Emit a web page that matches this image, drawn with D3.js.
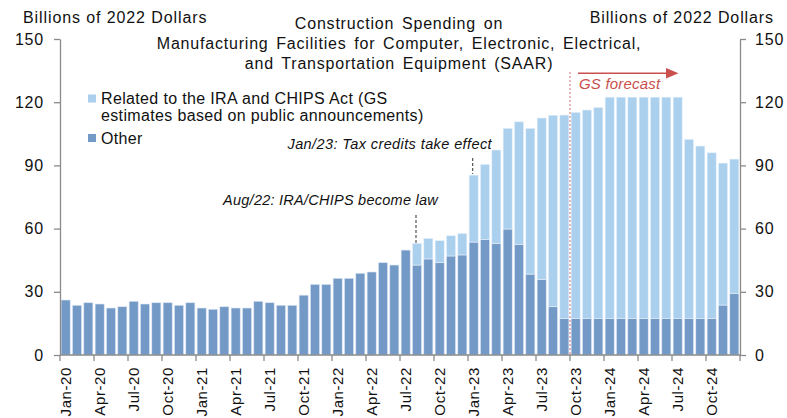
<!DOCTYPE html>
<html>
<head>
<meta charset="utf-8">
<script src="https://cdn.jsdelivr.net/npm/d3@7/dist/d3.min.js"></script>
<style>
  html, body { margin: 0; padding: 0; background: #fff; }
  svg text { font-family: "Liberation Sans", Arial, sans-serif; fill: #111; }
</style>
</head>
<body>
<svg id="chart" width="787" height="418"></svg>
<script>
// ---------- DATA ----------
const months = [
  "Jan-20","Feb-20","Mar-20","Apr-20","May-20","Jun-20","Jul-20","Aug-20","Sep-20","Oct-20","Nov-20","Dec-20",
  "Jan-21","Feb-21","Mar-21","Apr-21","May-21","Jun-21","Jul-21","Aug-21","Sep-21","Oct-21","Nov-21","Dec-21",
  "Jan-22","Feb-22","Mar-22","Apr-22","May-22","Jun-22","Jul-22","Aug-22","Sep-22","Oct-22","Nov-22","Dec-22",
  "Jan-23","Feb-23","Mar-23","Apr-23","May-23","Jun-23","Jul-23","Aug-23","Sep-23","Oct-23","Nov-23","Dec-23",
  "Jan-24","Feb-24","Mar-24","Apr-24","May-24","Jun-24","Jul-24","Aug-24","Sep-24","Oct-24","Nov-24","Dec-24"
];
const otherValues = [
  26.1, 23.6, 24.8, 24.2, 22.3, 22.9, 25.5, 24.2, 24.8, 24.8, 23.6, 24.8,
  22.3, 21.7, 22.9, 22.3, 22.3, 25.5, 24.8, 23.6, 23.6, 28.4, 33.5, 33.5,
  36.4, 36.4, 38.8, 39.4, 43.8, 42.7, 49.8, 42.7, 45.6, 43.8, 47.0, 47.5,
  53.6, 54.9, 53.0, 59.8, 52.5, 38.4, 35.9, 22.9, 17.4, 17.4, 17.4, 17.4,
  17.4, 17.4, 17.4, 17.4, 17.4, 17.4, 17.4, 17.4, 17.4, 17.4, 23.7, 29.3
];
const iraValues = [
  0, 0, 0, 0, 0, 0, 0, 0, 0, 0, 0, 0,
  0, 0, 0, 0, 0, 0, 0, 0, 0, 0, 0, 0,
  0, 0, 0, 0, 0, 0, 0, 10.3, 9.8, 10.5, 9.6, 10.2,
  31.8, 35.6, 44.3, 47.8, 58.2, 69.2, 76.6, 90.9, 96.5, 97.8, 98.9, 100.1,
  105.0, 105.0, 105.0, 105.0, 105.0, 105.0, 105.0, 85.0, 81.8, 78.6, 67.4, 63.7
];
const yTicks = [0, 30, 60, 90, 120, 150];
const xTickLabels = ["Jan-20","Apr-20","Jul-20","Oct-20","Jan-21","Apr-21","Jul-21","Oct-21",
  "Jan-22","Apr-22","Jul-22","Oct-22","Jan-23","Apr-23","Jul-23","Oct-23","Jan-24","Apr-24","Jul-24","Oct-24"];
const titleLines = ["Construction Spending on",
  "Manufacturing Facilities for Computer, Electronic, Electrical,",
  "and Transportation Equipment (SAAR)"];
const legendLabels = [["Related to the IRA and CHIPS Act (GS", "estimates based on public announcements)"], ["Other"]];
const annotations = [
  { month: "Aug-22", text: "Aug/22: IRA/CHIPS become law" },
  { month: "Jan-23", text: "Jan/23: Tax credits take effect" }
];
const forecastStart = "Oct-23";
const unitLabel = "Billions of 2022 Dollars";

// ---------- LAYOUT ----------
const colors = { ira: "#abd0ee", other: "#7399c6", axis: "#8a8a8a", red: "#c9504d" };
const svg = d3.select("#chart");
const plotL = 60, plotR = 740, plotT = 39, plotB = 355;

const x = d3.scaleBand().domain(months).range([plotL, plotR]).paddingInner(0.2).paddingOuter(0.1);
const y = d3.scaleLinear().domain([0, 150]).range([plotB, plotT]);
const step = x.step();
const bandLeft = m => x(m) - x.paddingInner() * step / 2;   // category boundary

const data = months.map((m, i) => ({ m, other: otherValues[i], ira: iraValues[i] }));

// bars
const g = svg.append("g");
g.selectAll("rect.other").data(data).join("rect")
  .attr("x", d => x(d.m)).attr("width", x.bandwidth())
  .attr("y", d => y(d.other)).attr("height", d => y(0) - y(d.other))
  .attr("fill", colors.other).attr("stroke", "#dbe6f3").attr("stroke-width", 0.6);
g.selectAll("rect.ira").data(data.filter(d => d.ira > 0)).join("rect")
  .attr("x", d => x(d.m)).attr("width", x.bandwidth())
  .attr("y", d => y(d.other + d.ira)).attr("height", d => y(d.other) - y(d.other + d.ira))
  .attr("fill", colors.ira).attr("stroke", "#e6f1fb").attr("stroke-width", 0.6);

// axes
const fontAxis = "16px";
const yl = svg.append("g").attr("transform", `translate(${plotL},0)`)
  .call(d3.axisLeft(y).tickValues(yTicks).tickSize(6).tickSizeOuter(0).tickPadding(10));
const yr = svg.append("g").attr("transform", `translate(${plotR},0)`)
  .call(d3.axisRight(y).tickValues(yTicks).tickSize(6).tickSizeOuter(0).tickPadding(9));
[yl, yr].forEach(a => {
  a.select(".domain").attr("stroke", colors.axis).attr("stroke-width", 1.3);
  a.selectAll(".tick line").attr("stroke", colors.axis).attr("stroke-width", 1.3);
  a.selectAll(".tick text").attr("font-size", fontAxis).attr("letter-spacing", "0.8px")
    .attr("font-family", "Liberation Sans, Arial, sans-serif").attr("fill", "#111");
});

// x axis line & ticks
const xa = svg.append("g");
xa.append("line").attr("x1", plotL).attr("x2", plotR).attr("y1", plotB).attr("y2", plotB)
  .attr("stroke", colors.axis).attr("stroke-width", 1.3);
const tickMonths = months.filter((m, i) => i % 3 === 0);
xa.selectAll("line.t").data(tickMonths).join("line")
  .attr("x1", d => bandLeft(d)).attr("x2", d => bandLeft(d))
  .attr("y1", plotB).attr("y2", plotB + 6).attr("stroke", colors.axis).attr("stroke-width", 1.3);
xa.append("line").attr("x1", plotR).attr("x2", plotR).attr("y1", plotB).attr("y2", plotB + 6)
  .attr("stroke", colors.axis).attr("stroke-width", 1.3);
xa.selectAll("text").data(xTickLabels).join("text")
  .attr("transform", d => `translate(${x(d) + x.bandwidth() / 2 + 5.5},${plotB + 12}) rotate(-90)`)
  .attr("text-anchor", "end").attr("font-size", "15px").attr("letter-spacing", "0.6px")
  .text(d => d);

// unit labels
svg.append("text").attr("x", 23).attr("y", 23).attr("font-size", "16px").attr("letter-spacing", "0.9px").text(unitLabel);
svg.append("text").attr("x", 774).attr("y", 23).attr("text-anchor", "end").attr("font-size", "16px").attr("letter-spacing", "0.9px").text(unitLabel);

// title
svg.append("g").selectAll("text").data(titleLines).join("text")
  .attr("x", 399).attr("y", (d, i) => 29 + i * 20)
  .attr("text-anchor", "middle").attr("font-size", "16px").attr("letter-spacing", "0.8px")
  .attr("word-spacing", "2.5px").text(d => d);

// legend
const lg = svg.append("g");
lg.append("rect").attr("x", 88).attr("y", 94.5).attr("width", 8).attr("height", 8).attr("fill", colors.ira);
lg.append("rect").attr("x", 88).attr("y", 134).attr("width", 8).attr("height", 8).attr("fill", colors.other);
legendLabels[0].forEach((t, i) => lg.append("text").attr("x", 101).attr("y", 104 + i * 17)
  .attr("font-size", "16px").attr("letter-spacing", "0.35px").text(t));
lg.append("text").attr("x", 101).attr("y", 144).attr("font-size", "16px").attr("letter-spacing", "0.35px").text(legendLabels[1][0]);

// annotations
const an = svg.append("g");
const annLayout = [{ tx: 438, ty: 205, ly1: 215, ly2: 243 }, { tx: 492, ty: 149, ly1: 158, ly2: 174 }];
annotations.forEach((a, i) => {
  const L = annLayout[i];
  const cx = x(a.month) + x.bandwidth() / 2;
  an.append("text").attr("x", L.tx).attr("y", L.ty).attr("text-anchor", "end")
    .attr("font-size", "14.5px").attr("font-style", "italic").attr("letter-spacing", i === 0 ? "0.25px" : "0.4px")
    .attr("fill", "#222").text(a.text);
  an.append("line").attr("x1", cx - 1).attr("x2", cx - 1).attr("y1", L.ly1).attr("y2", L.ly2)
    .attr("stroke", "#555").attr("stroke-width", 1.2).attr("stroke-dasharray", "3,2");
});

// forecast marker
const fx = bandLeft(forecastStart);
svg.append("line").attr("x1", fx).attr("x2", fx).attr("y1", 72).attr("y2", plotB)
  .attr("stroke", "#e08a88").attr("stroke-width", 1.2).attr("stroke-dasharray", "2,2");
svg.append("line").attr("x1", 578).attr("x2", 667).attr("y1", 73.3).attr("y2", 73.3)
  .attr("stroke", colors.red).attr("stroke-width", 1.5);
svg.append("path").attr("d", "M666,68 L678.5,73.3 L666,78.6 Z").attr("fill", colors.red);
svg.append("text").attr("x", 579).attr("y", 89).attr("font-size", "15px").attr("font-style", "italic")
  .attr("letter-spacing", "0.2px").style("fill", colors.red).text("GS forecast");
</script>
</body>
</html>
